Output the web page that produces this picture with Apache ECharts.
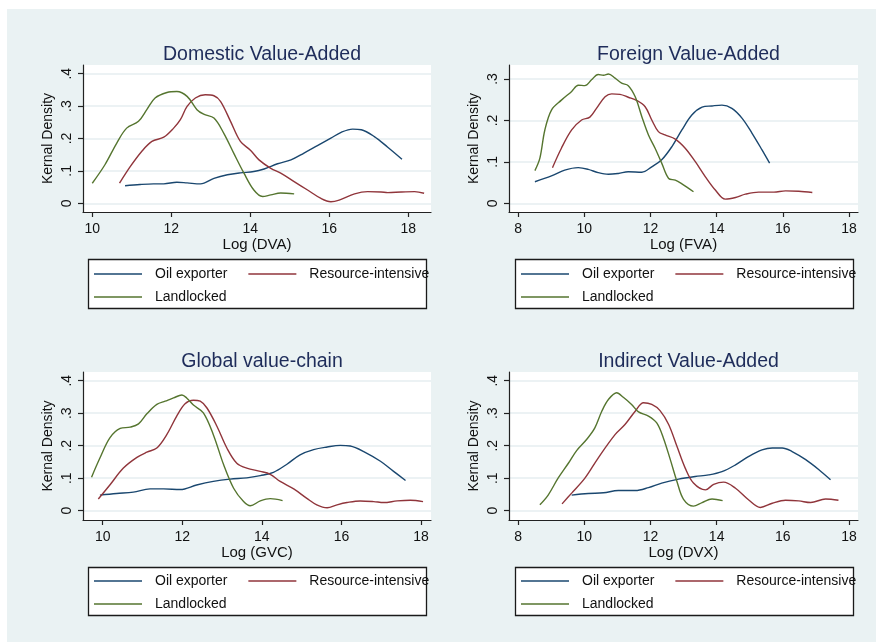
<!DOCTYPE html>
<html>
<head>
<meta charset="utf-8">
<script src="https://cdn.jsdelivr.net/npm/echarts@6/dist/echarts.min.js"></script>
<style>
  html, body { margin: 0; padding: 0; background: #ffffff; }
  #chart { width: 876px; height: 642px; }
</style>
</head>
<body>
<div id="chart"></div>
<script>
// Country groups and their line colours
const groups = ['Oil exporter', 'Resource-intensive', 'Landlocked'];
const groupColors = ['#1a476f', '#90353b', '#55752f'];

// Panel titles and x-axis names
const panelTitles = ['Domestic Value-Added', 'Foreign Value-Added', 'Global value-chain', 'Indirect Value-Added'];
const xNames = ['Log (DVA)', 'Log (FVA)', 'Log (GVC)', 'Log (DVX)'];

// Tick values
const xTicksA = [10, 12, 14, 16, 18];
const xTicksB = [8, 10, 12, 14, 16, 18];
const yTicks4 = [0, 0.1, 0.2, 0.3, 0.4];
const yTicks3 = [0, 0.1, 0.2, 0.3];

// Kernel density estimates, [log value, density]
const dvaOil = [[10.83,0.054],[11.21,0.058],[11.55,0.060],[11.81,0.060],[12.14,0.065],[12.40,0.063],[12.74,0.060],[13.08,0.077],[13.42,0.088],[13.75,0.094],[14.09,0.098],[14.35,0.106],[14.69,0.122],[15.03,0.134],[15.36,0.155],[15.70,0.178],[16.04,0.201],[16.30,0.219],[16.59,0.229],[16.81,0.227],[17.14,0.206],[17.48,0.173],[17.84,0.136]];
const dvaRes = [[10.69,0.062],[10.96,0.113],[11.25,0.160],[11.51,0.191],[11.81,0.204],[12.06,0.232],[12.23,0.258],[12.40,0.299],[12.61,0.325],[12.86,0.335],[13.08,0.332],[13.25,0.314],[13.50,0.253],[13.75,0.191],[14.01,0.163],[14.22,0.134],[14.52,0.108],[14.77,0.093],[15.11,0.067],[15.45,0.041],[15.79,0.015],[16.04,0.005],[16.25,0.010],[16.64,0.029],[16.97,0.036],[17.31,0.035],[17.48,0.033],[17.82,0.035],[18.16,0.036],[18.40,0.031]];
const dvaLand = [[10.00,0.062],[10.32,0.119],[10.62,0.186],[10.87,0.232],[11.17,0.253],[11.38,0.289],[11.59,0.325],[11.89,0.342],[12.14,0.345],[12.40,0.330],[12.65,0.289],[12.82,0.275],[13.08,0.263],[13.33,0.216],[13.58,0.155],[13.84,0.093],[14.09,0.041],[14.31,0.021],[14.52,0.026],[14.77,0.032],[15.11,0.029]];

const fvaOil = [[8.51,0.052],[9.01,0.066],[9.41,0.080],[9.82,0.086],[10.12,0.082],[10.42,0.074],[10.73,0.070],[11.03,0.072],[11.33,0.076],[11.74,0.075],[12.04,0.088],[12.34,0.105],[12.65,0.137],[12.95,0.177],[13.25,0.213],[13.56,0.232],[13.86,0.235],[14.16,0.237],[14.46,0.229],[14.77,0.205],[15.07,0.169],[15.37,0.129],[15.60,0.097]];
const fvaRes = [[9.04,0.086],[9.31,0.133],[9.62,0.177],[9.92,0.201],[10.17,0.208],[10.37,0.229],[10.63,0.257],[10.83,0.264],[11.08,0.263],[11.33,0.256],[11.59,0.248],[11.84,0.233],[12.04,0.201],[12.24,0.173],[12.44,0.165],[12.75,0.155],[13.05,0.133],[13.35,0.101],[13.66,0.064],[13.96,0.032],[14.26,0.010],[14.57,0.014],[14.87,0.022],[15.27,0.027],[15.73,0.027],[16.08,0.030],[16.48,0.029],[16.89,0.026]];
const fvaLand = [[8.51,0.079],[8.66,0.109],[8.81,0.177],[9.01,0.225],[9.31,0.249],[9.62,0.270],[9.82,0.285],[10.02,0.284],[10.22,0.298],[10.42,0.311],[10.58,0.309],[10.73,0.312],[10.93,0.302],[11.13,0.290],[11.33,0.284],[11.54,0.257],[11.74,0.209],[11.94,0.165],[12.14,0.133],[12.34,0.097],[12.55,0.060],[12.75,0.056],[12.95,0.047],[13.30,0.028]];

const gvcOil = [[9.93,0.048],[10.35,0.053],[10.77,0.057],[11.19,0.067],[11.53,0.067],[11.95,0.065],[12.36,0.079],[12.78,0.090],[13.20,0.097],[13.62,0.101],[13.96,0.108],[14.29,0.118],[14.63,0.143],[14.96,0.172],[15.30,0.188],[15.64,0.196],[15.97,0.201],[16.22,0.199],[16.56,0.182],[16.98,0.152],[17.31,0.121],[17.61,0.093]];
const gvcRes = [[9.89,0.036],[10.18,0.079],[10.52,0.131],[10.86,0.164],[11.11,0.180],[11.36,0.193],[11.61,0.234],[11.86,0.291],[12.07,0.329],[12.28,0.340],[12.45,0.337],[12.62,0.316],[12.87,0.260],[13.12,0.193],[13.37,0.146],[13.62,0.131],[13.96,0.121],[14.21,0.112],[14.46,0.090],[14.80,0.067],[15.13,0.038],[15.38,0.018],[15.64,0.009],[15.89,0.018],[16.14,0.025],[16.47,0.030],[16.81,0.028],[17.06,0.025],[17.40,0.030],[17.73,0.032],[18.05,0.028]];
const gvcLand = [[9.72,0.103],[9.93,0.162],[10.18,0.224],[10.44,0.253],[10.69,0.257],[10.90,0.267],[11.11,0.298],[11.36,0.327],[11.57,0.337],[11.78,0.347],[11.99,0.356],[12.11,0.347],[12.28,0.325],[12.53,0.301],[12.78,0.234],[13.04,0.141],[13.29,0.069],[13.54,0.028],[13.71,0.015],[13.96,0.030],[14.21,0.037],[14.52,0.031]];

const dvxOil = [[9.62,0.048],[10.12,0.053],[10.58,0.055],[11.03,0.062],[11.54,0.062],[11.94,0.071],[12.34,0.085],[12.85,0.097],[13.35,0.105],[13.76,0.110],[14.16,0.120],[14.57,0.141],[14.97,0.167],[15.37,0.187],[15.68,0.193],[15.98,0.193],[16.28,0.182],[16.69,0.157],[17.09,0.126],[17.44,0.095]];
const dvxRes = [[9.33,0.021],[9.62,0.054],[10.02,0.100],[10.42,0.162],[10.93,0.234],[11.23,0.265],[11.54,0.306],[11.79,0.332],[12.04,0.327],[12.29,0.308],[12.55,0.265],[12.80,0.198],[13.05,0.131],[13.30,0.085],[13.66,0.064],[13.91,0.081],[14.21,0.088],[14.57,0.069],[14.97,0.033],[15.32,0.010],[15.68,0.023],[16.08,0.032],[16.48,0.030],[16.84,0.025],[17.29,0.036],[17.68,0.032]];
const dvxLand = [[8.66,0.018],[8.91,0.048],[9.21,0.100],[9.52,0.146],[9.77,0.185],[10.07,0.219],[10.32,0.255],[10.53,0.306],[10.73,0.342],[10.98,0.363],[11.18,0.349],[11.43,0.327],[11.64,0.304],[11.94,0.291],[12.19,0.270],[12.39,0.224],[12.60,0.157],[12.80,0.090],[13.00,0.035],[13.30,0.014],[13.56,0.025],[13.86,0.036],[14.18,0.031]];

const panelData = [
  [dvaOil, dvaRes, dvaLand],
  [fvaOil, fvaRes, fvaLand],
  [gvcOil, gvcRes, gvcLand],
  [dvxOil, dvxRes, dvxLand]
];

// Layout of each panel: plot box, axis ranges, legend box
const panels = [
  { left: 83,  top: 65,  width: 348, height: 147, xMin: 9.765, xMax: 18.575, yMin: -0.0268, yMax: 0.4268, xTicks: xTicksA, yTicks: yTicks4, box: [88, 259, 338, 49],  rows: [273, 296] },
  { left: 509, top: 65,  width: 349, height: 147, xMin: 7.727, xMax: 18.27,  yMin: -0.021,  yMax: 0.3338, xTicks: xTicksB, yTicks: yTicks3, box: [515, 259, 338, 49], rows: [273, 296] },
  { left: 83,  top: 372, width: 348, height: 148, xMin: 9.505, xMax: 18.25,  yMin: -0.0287, yMax: 0.4268, xTicks: xTicksA, yTicks: yTicks4, box: [88, 567, 338, 48],  rows: [580, 603] },
  { left: 509, top: 372, width: 349, height: 148, xMin: 7.727, xMax: 18.27,  yMin: -0.0287, yMax: 0.4268, xTicks: xTicksB, yTicks: yTicks4, box: [515, 567, 338, 48], rows: [580, 603] }
];

const FONT = '"Liberation Sans", Arial, sans-serif';
const fmtY = v => (v === 0 ? '0' : String(v).replace(/^0/, ''));

const grid = [], xAxis = [], yAxis = [], series = [], title = [], legend = [];
const graphic = [{
  type: 'rect', z: -10, silent: true,
  shape: { x: 7, y: 9, width: 869, height: 633 },
  style: { fill: '#eaf2f3' }
}];

panels.forEach((p, i) => {
  grid.push({
    left: p.left, top: p.top, width: p.width, height: p.height,
    show: true, backgroundColor: '#ffffff', borderWidth: 0
  });
  xAxis.push({
    type: 'value', gridIndex: i, min: p.xMin, max: p.xMax,
    name: xNames[i], nameLocation: 'middle', nameGap: 25,
    nameTextStyle: { fontFamily: FONT, fontSize: 15, color: '#111' },
    axisLine: { show: true, onZero: false, lineStyle: { color: '#222', width: 1.2 } },
    axisTick: { show: true, length: 5, customValues: p.xTicks, lineStyle: { color: '#222', width: 1.2 } },
    axisLabel: { customValues: p.xTicks, margin: 10, fontFamily: FONT, fontSize: 14, color: '#111' },
    splitLine: { show: false }
  });
  yAxis.push({
    type: 'value', gridIndex: i, min: p.yMin, max: p.yMax,
    name: 'Kernal Density', nameLocation: 'middle', nameGap: 28,
    nameTextStyle: { fontFamily: FONT, fontSize: 14, color: '#111' },
    axisLine: { show: true, onZero: false, lineStyle: { color: '#222', width: 1.2 } },
    axisTick: { show: true, length: 5, customValues: p.yTicks, lineStyle: { color: '#222', width: 1.2 } },
    axisLabel: { customValues: p.yTicks, rotate: 90, margin: 9, fontFamily: FONT, fontSize: 14, color: '#111', formatter: fmtY },
    splitLine: { show: true, lineStyle: { color: '#e6eef0', width: 1.5 } }
  });
  title.push({
    text: panelTitles[i], left: p.left + p.width / 2, top: p.top - 25, textAlign: 'center',
    textStyle: { fontFamily: FONT, fontSize: 19.5, fontWeight: 'normal', color: '#1e2c5a' }
  });
  panelData[i].forEach((d, k) => {
    series.push({
      type: 'line', name: groups[k], xAxisIndex: i, yAxisIndex: i,
      data: d, showSymbol: false, symbol: 'none', smooth: 0.35,
      lineStyle: { color: groupColors[k], width: 1.4 }, itemStyle: { color: groupColors[k] },
      z: 3
    });
  });
  const [bx, by, bw, bh] = p.box;
  graphic.push({
    type: 'rect', z: 1, silent: true,
    shape: { x: bx + 0.5, y: by + 0.5, width: bw, height: bh },
    style: { fill: '#ffffff', stroke: '#1a1a1a', lineWidth: 1.3 }
  });
  const legendBase = {
    orient: 'horizontal', padding: 0, icon: 'rect', itemWidth: 48, itemHeight: 1.5, itemGap: 21,
    left: bx + 6, selectedMode: false,
    textStyle: { fontFamily: FONT, fontSize: 14, color: '#111', padding: [0, 0, 0, 8] }
  };
  legend.push(Object.assign({}, legendBase, { top: p.rows[0] - 6, data: [groups[0], groups[1]] }));
  legend.push(Object.assign({}, legendBase, { top: p.rows[1] - 6, data: [groups[2]] }));
});

const chart = echarts.init(document.getElementById('chart'), null, { renderer: 'canvas' });
chart.setOption({
  animation: false,
  backgroundColor: 'transparent',
  title, grid, xAxis, yAxis, legend, series, graphic
});
</script>
</body>
</html>
